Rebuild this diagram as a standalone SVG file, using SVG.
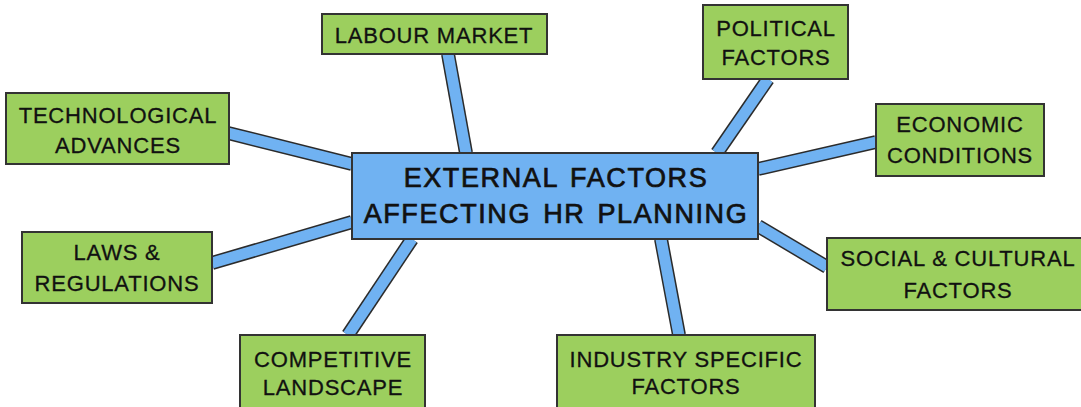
<svg xmlns="http://www.w3.org/2000/svg" width="1081" height="407" viewBox="0 0 1081 407">
<style>
.edge-o{stroke:#2b2b2b;stroke-width:14;fill:none}
.edge-i{stroke:#70b2f2;stroke-width:11;fill:none}
.leaf rect{fill:#9ccf5e;stroke:#333;stroke-width:2}
.hub rect{fill:#70b2f2;stroke:#333;stroke-width:2}
text{font-family:"Liberation Sans",Arial,sans-serif;fill:#111111;text-anchor:middle}
.leaf text{font-size:22px;letter-spacing:0.8px;stroke:#111111;stroke-width:0.3}
.hub text{font-size:27px;letter-spacing:1.6px;word-spacing:3px;stroke:#111111;stroke-width:0.7}
</style>
<rect width="1081" height="407" fill="#ffffff"/>
<g id="connectors">
<g class="edge-o">
<line x1="448" y1="54" x2="466" y2="153"/>
<line x1="228" y1="133" x2="352" y2="164"/>
<line x1="212" y1="263" x2="352" y2="222"/>
<line x1="412" y1="239" x2="348" y2="335"/>
<line x1="768" y1="79" x2="717" y2="153"/>
<line x1="758" y1="169" x2="876" y2="142"/>
<line x1="758" y1="226" x2="827" y2="267"/>
<line x1="661" y1="239" x2="679" y2="335"/>
</g>
<g class="edge-i">
<line x1="448" y1="54" x2="466" y2="153"/>
<line x1="228" y1="133" x2="352" y2="164"/>
<line x1="212" y1="263" x2="352" y2="222"/>
<line x1="412" y1="239" x2="348" y2="335"/>
<line x1="768" y1="79" x2="717" y2="153"/>
<line x1="758" y1="169" x2="876" y2="142"/>
<line x1="758" y1="226" x2="827" y2="267"/>
<line x1="661" y1="239" x2="679" y2="335"/>
</g>
</g>
<g id="hub" class="hub">
<rect x="352" y="153" width="406" height="86"/>
<text x="556" y="187">EXTERNAL FACTORS</text>
<text x="556" y="223">AFFECTING HR PLANNING</text>
</g>
<g id="labour-market" class="leaf">
<rect x="322" y="14" width="225" height="40"/>
<text x="434" y="43">LABOUR MARKET</text>
</g>
<g id="technological-advances" class="leaf">
<rect x="6" y="93" width="223" height="71"/>
<text x="118" y="123">TECHNOLOGICAL</text>
<text x="118" y="153">ADVANCES</text>
</g>
<g id="laws-regulations" class="leaf">
<rect x="22" y="232" width="190" height="71"/>
<text x="117" y="260">LAWS &amp;</text>
<text x="117" y="291">REGULATIONS</text>
</g>
<g id="competitive-landscape" class="leaf">
<rect x="240" y="335" width="185" height="80"/>
<text x="333" y="367">COMPETITIVE</text>
<text x="333" y="395">LANDSCAPE</text>
</g>
<g id="political-factors" class="leaf">
<rect x="703" y="5" width="145" height="74"/>
<text x="776" y="36">POLITICAL</text>
<text x="776" y="65">FACTORS</text>
</g>
<g id="economic-conditions" class="leaf">
<rect x="876" y="104" width="168" height="72"/>
<text x="960" y="132">ECONOMIC</text>
<text x="960" y="163">CONDITIONS</text>
</g>
<g id="social-cultural-factors" class="leaf">
<rect x="827" y="238" width="260" height="72"/>
<text x="958" y="266">SOCIAL &amp; CULTURAL</text>
<text x="958" y="298">FACTORS</text>
</g>
<g id="industry-specific-factors" class="leaf">
<rect x="557" y="335" width="258" height="80"/>
<text x="686" y="367">INDUSTRY SPECIFIC</text>
<text x="686" y="394">FACTORS</text>
</g>
</svg>
